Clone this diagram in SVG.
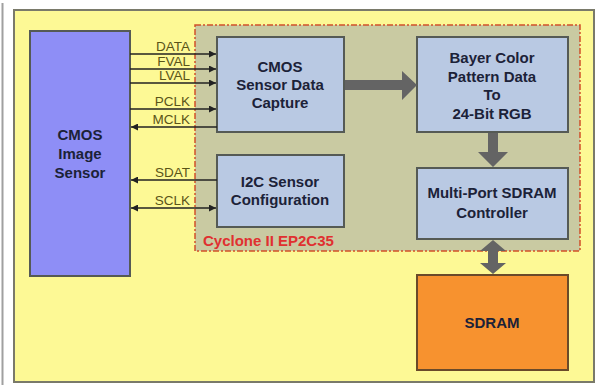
<svg xmlns="http://www.w3.org/2000/svg" width="597" height="385" viewBox="0 0 597 385">
<defs>
<style>
.blk{fill:#b9c9e3;stroke:#555a55;stroke-width:2}
.bt{font-family:"Liberation Sans",Arial,sans-serif;font-weight:bold;font-size:15px;fill:#1c2238;text-anchor:middle}
.sig{font-family:"Liberation Sans",Arial,sans-serif;font-size:13.5px;fill:#5a5418;text-anchor:end}
.wire{stroke:#222;stroke-width:1.3;fill:none}
.fat{fill:#646464}
</style>
<marker id="ah" viewBox="0 0 10 10" refX="10" refY="5" markerWidth="9" markerHeight="7" markerUnits="userSpaceOnUse" orient="auto-start-reverse">
<path d="M0,0 L10,5 L0,10 z" fill="#222"/>
</marker>
</defs>
<rect x="0" y="0" width="597" height="385" fill="#ffffff"/>
<line x1="2.5" y1="3" x2="2.5" y2="385" stroke="#a0a0a0" stroke-width="2"/>
<g id="board">
<rect x="14" y="10" width="580" height="372" fill="#fdf995" stroke="#7a7a6a" stroke-width="2"/>
</g>
<g id="cyclone">
<rect x="195" y="25" width="385" height="226" fill="#c9caa2" stroke="#d0502a" stroke-width="1.5" stroke-dasharray="6,2,2,2"/>
<text x="203" y="246" font-family="'Liberation Sans',Arial,sans-serif" font-weight="bold" font-size="15" fill="#e03030">Cyclone II EP2C35</text>
</g>
<g id="sensor">
<rect x="30" y="31" width="100" height="245" fill="#8e8ef6" stroke="#555a55" stroke-width="2"/>
<text class="bt" x="80" y="140">CMOS</text>
<text class="bt" x="80" y="159">Image</text>
<text class="bt" x="80" y="178">Sensor</text>
</g>
<g id="capture">
<rect class="blk" x="217" y="37" width="127" height="95"/>
<text class="bt" x="280" y="72">CMOS</text>
<text class="bt" x="280" y="90">Sensor Data</text>
<text class="bt" x="280" y="108">Capture</text>
</g>
<g id="i2c">
<rect class="blk" x="217" y="155" width="127" height="72"/>
<text class="bt" x="280" y="187">I2C Sensor</text>
<text class="bt" x="280" y="205">Configuration</text>
</g>
<g id="bayer">
<rect class="blk" x="417" y="37" width="151" height="95"/>
<text class="bt" x="492" y="63">Bayer Color</text>
<text class="bt" x="492" y="82">Pattern Data</text>
<text class="bt" x="492" y="100">To</text>
<text class="bt" x="492" y="119">24-Bit RGB</text>
</g>
<g id="controller">
<rect class="blk" x="417" y="168" width="151" height="71"/>
<text class="bt" x="492" y="198">Multi-Port SDRAM</text>
<text class="bt" x="492" y="218">Controller</text>
</g>
<g id="sdram">
<rect x="417" y="275" width="151" height="95" fill="#f7922f" stroke="#6a4a2a" stroke-width="2"/>
<text class="bt" x="492" y="328" fill="#2a1c10">SDRAM</text>
</g>
<g id="connectors">
<line class="wire" x1="130" y1="54" x2="216" y2="54" marker-end="url(#ah)"/>
<line class="wire" x1="130" y1="69" x2="216" y2="69" marker-end="url(#ah)"/>
<line class="wire" x1="130" y1="83" x2="216" y2="83" marker-end="url(#ah)"/>
<line class="wire" x1="130" y1="109" x2="216" y2="109" marker-end="url(#ah)"/>
<line class="wire" x1="217" y1="127" x2="131" y2="127" marker-end="url(#ah)"/>
<line class="wire" x1="217" y1="180" x2="131" y2="180" marker-end="url(#ah)"/>
<line class="wire" x1="131" y1="208" x2="216" y2="208" marker-start="url(#ah)" marker-end="url(#ah)"/>
<text class="sig" x="190" y="51">DATA</text>
<text class="sig" x="190" y="66">FVAL</text>
<text class="sig" x="190" y="80">LVAL</text>
<text class="sig" x="190" y="106">PCLK</text>
<text class="sig" x="190" y="124">MCLK</text>
<text class="sig" x="190" y="177">SDAT</text>
<text class="sig" x="190" y="205">SCLK</text>
<path class="fat" d="M345,80 L402,80 L402,71 L417,85 L402,100 L402,90 L345,90 z"/>
<path class="fat" d="M488,133 L498,133 L498,152 L508,152 L493,167 L478,152 L488,152 z"/>
<path class="fat" d="M493,240 L506,251 L498,251 L498,263 L506,263 L493,274 L480,263 L488,263 L488,251 L480,251 z"/>
</g>
</svg>
